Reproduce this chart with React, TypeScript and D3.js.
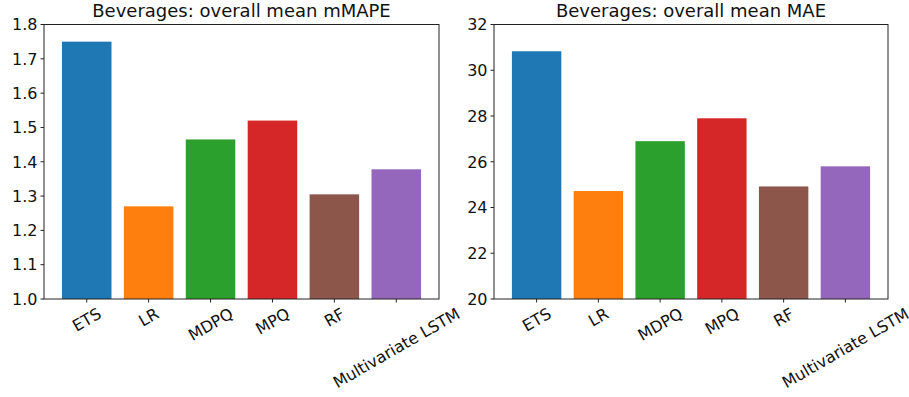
import React, { useRef, useEffect } from 'react';
import * as d3 from 'd3';

const models = ['ETS', 'LR', 'MDPQ', 'MPQ', 'RF', 'Multivariate LSTM'];
const mmapeValues = [1.75, 1.27, 1.465, 1.52, 1.305, 1.378];
const maeValues = [30.83, 24.72, 26.9, 27.9, 24.92, 25.8];
const mmapeTicks = [1.0, 1.1, 1.2, 1.3, 1.4, 1.5, 1.6, 1.7, 1.8];
const maeTicks = [20, 22, 24, 26, 28, 30, 32];
const colors = ['#1f77b4', '#ff7f0e', '#2ca02c', '#d62728', '#8c564b', '#9467bd'];

const W = 909;
const H = 397;
const FONT = "'DejaVu Sans', sans-serif";
const TICK_SIZE = 16;

interface Panel {
  title: string;
  values: number[];
  ticks: number[];
  domain: [number, number];
  fmt: (v: number) => string;
  left: number;
  right: number;
}

const panels: Panel[] = [
  { title: 'Beverages: overall mean mMAPE', values: mmapeValues, ticks: mmapeTicks, domain: [1.0, 1.8], fmt: d3.format('.1f'), left: 44, right: 439 },
  { title: 'Beverages: overall mean MAE', values: maeValues, ticks: maeTicks, domain: [20, 32], fmt: d3.format('d'), left: 494, right: 888 },
];

const App: React.FC = () => {
  const svgRef = useRef<SVGSVGElement>(null);

  useEffect(() => {
    if (!svgRef.current) return;
    const svg = d3.select(svgRef.current);
    svg.selectAll('*').remove();

    const top = 24.5;
    const bottom = 299;

    panels.forEach(p => {
      const x = d3.scaleLinear().domain([-0.69, 5.69]).range([p.left, p.right]);
      const y = d3.scaleLinear().domain(p.domain).range([bottom, top]);
      const g = svg.append('g');

      // bars
      g.selectAll('rect')
        .data(p.values)
        .enter()
        .append('rect')
        .attr('x', (d, i) => x(i - 0.4))
        .attr('width', x(0.4) - x(-0.4))
        .attr('y', d => y(d))
        .attr('height', d => bottom - y(d))
        .attr('fill', (d, i) => colors[i]);

      // frame
      g.append('rect')
        .attr('x', p.left)
        .attr('y', top)
        .attr('width', p.right - p.left)
        .attr('height', bottom - top)
        .attr('fill', 'none')
        .attr('stroke', '#222')
        .attr('stroke-width', 1);

      // y ticks
      p.ticks.forEach(t => {
        g.append('line')
          .attr('x1', p.left - 3.5).attr('x2', p.left)
          .attr('y1', y(t)).attr('y2', y(t))
          .attr('stroke', '#222');
        g.append('text')
          .attr('x', p.left - 6.5)
          .attr('y', y(t))
          .attr('dy', '0.36em')
          .attr('text-anchor', 'end')
          .style('font-family', FONT)
          .style('font-size', `${TICK_SIZE}px`)
          .attr('fill', '#111')
          .text(p.fmt(t));
      });

      // x ticks, rotated labels (bbox top at tick + pad, centred)
      models.forEach((m, i) => {
        const cx = x(i);
        g.append('line')
          .attr('x1', cx).attr('x2', cx)
          .attr('y1', bottom).attr('y2', bottom + 3.5)
          .attr('stroke', '#222');
        const txt = g.append('text')
          .attr('text-anchor', 'middle')
          .attr('dy', '0.36em')
          .style('font-family', FONT)
          .style('font-size', `${TICK_SIZE}px`)
          .attr('fill', '#111')
          .text(m);
        const w = (txt.node() as SVGTextElement).getComputedTextLength();
        const h = TICK_SIZE * 1.16;
        const a = Math.PI / 6;
        const bh = w * Math.sin(a) + h * Math.cos(a);
        const cy = bottom + 5 + bh / 2;
        txt.attr('transform', `translate(${cx},${cy}) rotate(-30)`);
      });

      // title
      g.append('text')
        .attr('x', (p.left + p.right) / 2)
        .attr('y', 17)
        .attr('text-anchor', 'middle')
        .style('font-family', FONT)
        .style('font-size', '18px')
        .attr('fill', '#111')
        .text(p.title);
    });
  }, []);

  return (
    <svg
      ref={svgRef}
      width={W}
      height={H}
      style={{ position: 'absolute', left: 0, top: 0, background: '#fff' }}
    />
  );
};

export default App;
